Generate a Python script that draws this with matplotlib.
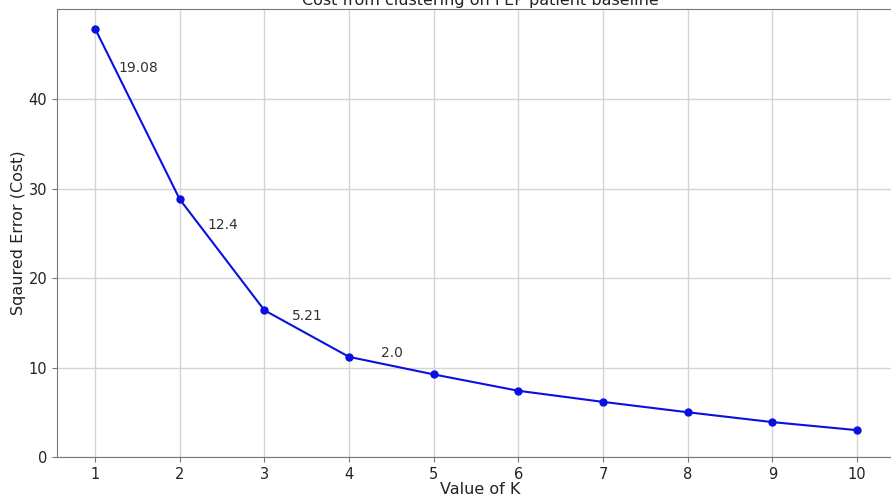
import matplotlib
matplotlib.use('Agg')
import matplotlib.pyplot as plt

# elbow curve values
k_values = [1, 2, 3, 4, 5, 6, 7, 8, 9, 10]
cost = [47.9, 28.82, 16.42, 11.21, 9.25, 7.42, 6.18, 5.02, 3.92, 3.02]

# drop labels shown between consecutive K
drop_labels = ['19.08', '12.4', '5.21', '2.0']
label_x = [1.27, 2.33, 3.33, 4.38]
label_y = [43.5, 25.9, 15.8, 11.6]

fig = plt.figure(figsize=(8.91, 4.98), dpi=100)
ax = fig.add_axes([0.064, 0.082, 0.95, 0.9])

ax.plot(k_values, cost, color='#0a10e0', marker='o', markersize=5, linewidth=1.5)
for txt, x, y in zip(drop_labels, label_x, label_y):
    ax.text(x, y, txt, fontsize=10, color='#333333', va='center', ha='left')

ax.set_xticks(k_values)
ax.set_yticks([0, 10, 20, 30, 40])
ax.set_ylim(bottom=0, top=50.1)
ax.set_xlim(0.55, 10.55)
ax.grid(True, color='#d4d4d4', linewidth=1)
ax.set_axisbelow(True)
for s in ax.spines.values():
    s.set_color('#777777')
ax.tick_params(colors='#777777', labelcolor='#222222', labelsize=10.5)
ax.set_xlabel('Value of K', fontsize=11.5, color='#222222', labelpad=0)
ax.set_ylabel('Sqaured Error (Cost)', fontsize=11.5, color='#222222', labelpad=2)
ax.set_title('Cost from clustering on FEP patient baseline', fontsize=11.5,
             color='#222222', pad=3)

plt.savefig('out.png', dpi=100)
plt.close()
